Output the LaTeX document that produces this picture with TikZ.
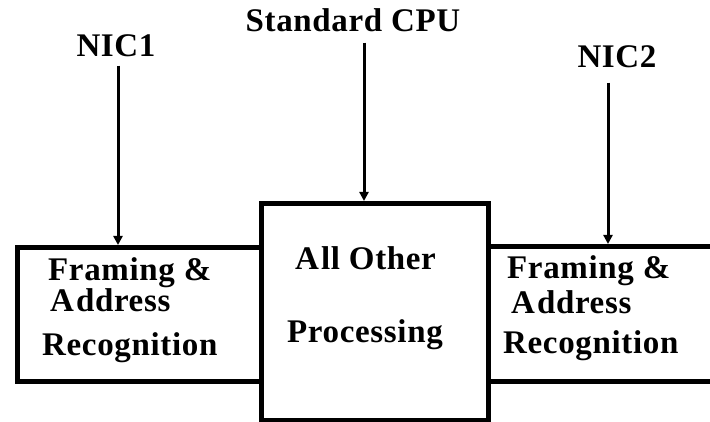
\documentclass[tikz,border=0pt]{standalone}
\usepackage{fontspec}
\setmainfont{Liberation Serif}[LetterSpace=2]
\usetikzlibrary{arrows.meta}

\tikzset{
  box/.style={draw, line width=5pt, fill=white, rectangle, inner sep=0pt, anchor=north west},
  lbl/.style={inner sep=0pt, font=\fontsize{33}{38}\selectfont\bfseries},
  feed/.style={line width=3pt, -{Triangle[length=9pt,width=9pt]}},
}

\begin{document}
\begin{tikzpicture}[x=1pt, y=-1pt]
  \useasboundingbox (0,0) rectangle (710,422);

  % side blocks (the right one runs off the edge)
  \node[box, minimum width=244pt, minimum height=134pt] (lbox) at (15,245) {};
  \node[box, minimum width=240pt, minimum height=135pt] (rbox) at (486,244) {};
  % central processor block
  \node[box, minimum width=227pt, minimum height=217pt] (cbox) at (259,201) {};

  % headings
  \node[lbl, anchor=base] (nic1) at (116,57) {NIC1};
  \node[lbl, anchor=base] (cpu) at (353,32) {Standard CPU};
  \node[lbl, anchor=base] (nic2) at (617,68) {NIC2};

  % block texts
  \node[lbl, anchor=base west] (l1) at (48,281) {Framing \&};
  \node[lbl, anchor=base west] (l2) at (50,312) {A\kern2pt ddress};
  \node[lbl, anchor=base west] (l3) at (42,355) {Recognition};

  \node[lbl, anchor=base west] (c1) at (295,270) {A\kern2pt ll Other};
  \node[lbl, anchor=base west] (c2) at (287,342) {Processing};

  \node[lbl, anchor=base west] (r1) at (507,279) {Framing \&};
  \node[lbl, anchor=base west] (r2) at (511,313) {A\kern2pt ddress};
  \node[lbl, anchor=base west] (r3) at (503,353) {Recognition};

  % entry points on the block tops
  \path (lbox.north west) ++(103,0) coordinate (inL);
  \path (cbox.north west) ++(105,0) coordinate (inC);
  \path (rbox.north west) ++(122,0) coordinate (inR);

  \draw[feed] ([yshift=-8pt]inL |- nic1.south) -- (inL |- lbox.north);
  \draw[feed] ([yshift=-10pt]inC |- cpu.south) -- (inC |- cbox.north);
  \draw[feed] ([yshift=-14pt]inR |- nic2.south) -- (inR |- rbox.north);
\end{tikzpicture}
\end{document}
